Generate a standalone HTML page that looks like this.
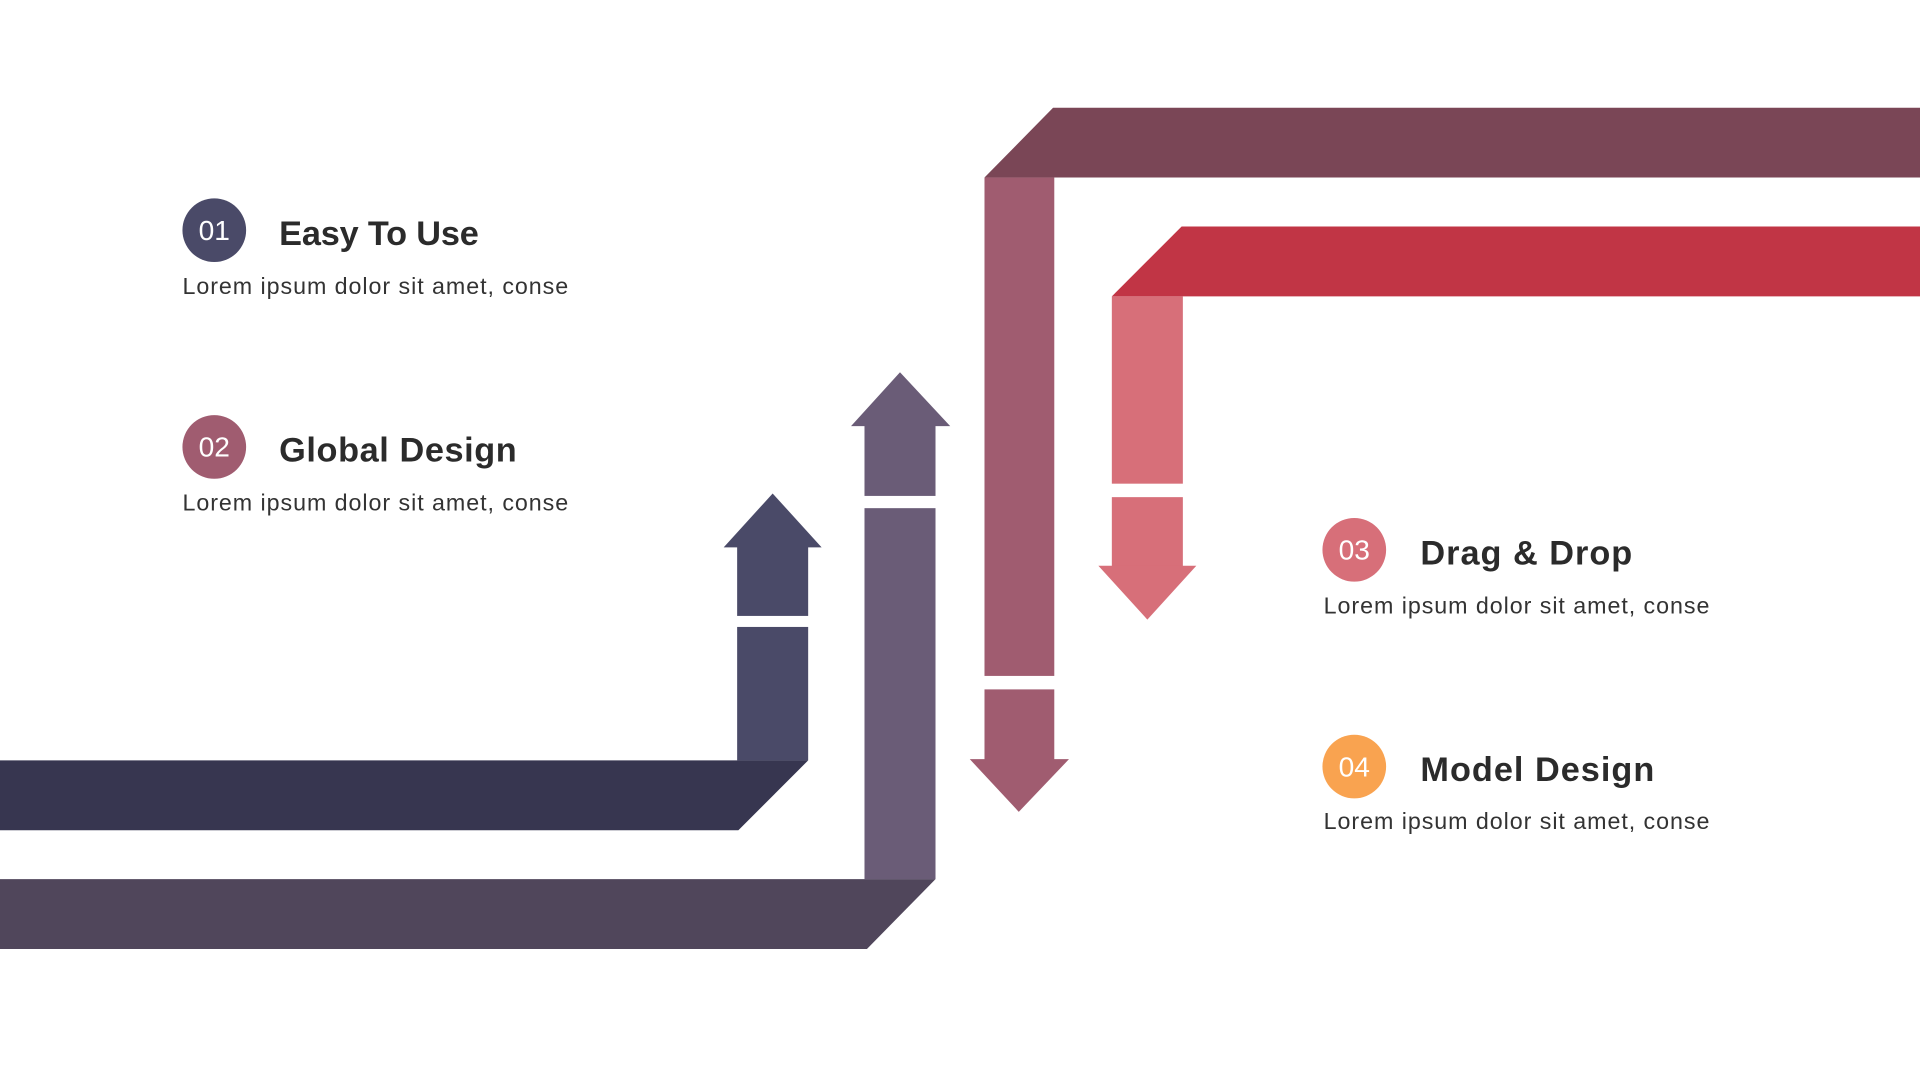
<!DOCTYPE html>
<html><head><meta charset="utf-8"><style>html,body{margin:0;padding:0;background:#fff;width:1920px;height:1080px;overflow:hidden}svg{display:block}</style></head><body>
<svg width="1920" height="1080" viewBox="0 0 1568 882" preserveAspectRatio="none" xmlns="http://www.w3.org/2000/svg" font-family="Liberation Sans, sans-serif">
<polygon points="860,88 1568,88 1568,145 804,145" fill="#7a4656"/>
<rect x="804" y="145" width="57" height="407" fill="#a05c70"/>
<rect x="804" y="563" width="57" height="58" fill="#a05c70"/>
<polygon points="792,620 873,620 832,663" fill="#a05c70"/>
<polygon points="965,185 1568,185 1568,242 908,242" fill="#c13545"/>
<rect x="908" y="242" width="58" height="153" fill="#d76f79"/>
<rect x="908" y="406" width="58" height="57" fill="#d76f79"/>
<polygon points="897,462 977,462 937,506" fill="#d76f79"/>
<polygon points="0,621 660,621 603,678 0,678" fill="#373650"/>
<rect x="602" y="512" width="58" height="109" fill="#4a4a68"/>
<rect x="602" y="446" width="58" height="57" fill="#4a4a68"/>
<polygon points="591,447 671,447 631,403" fill="#4a4a68"/>
<polygon points="0,718 764,718 708,775 0,775" fill="#50465b"/>
<rect x="706" y="415" width="58" height="303" fill="#6a5c77"/>
<rect x="706" y="347" width="58" height="58" fill="#6a5c77"/>
<polygon points="695,348 776,348 735,304" fill="#6a5c77"/>
<g font-size="23" fill="#fff" text-anchor="middle">
<circle cx="175" cy="188" r="26" fill="#4a4a68"/><text x="175" y="196">01</text>
<circle cx="175" cy="365" r="26" fill="#a05c70"/><text x="175" y="373">02</text>
<circle cx="1106" cy="449" r="26" fill="#d76f79"/><text x="1106" y="457">03</text>
<circle cx="1106" cy="626" r="26" fill="#f9a350"/><text x="1106" y="634">04</text>
</g>
<g font-size="28" font-weight="bold" fill="#2b2b2b">
<text x="228" y="200" textLength="163">Easy To Use</text>
<text x="228" y="377" textLength="194">Global Design</text>
<text x="1160" y="461" textLength="173">Drag &amp; Drop</text>
<text x="1160" y="638" textLength="191">Model Design</text>
</g>
<g font-size="19" fill="#333">
<text x="149" y="240" textLength="315">Lorem ipsum dolor sit amet, conse</text>
<text x="149" y="417" textLength="315">Lorem ipsum dolor sit amet, conse</text>
<text x="1081" y="501" textLength="315">Lorem ipsum dolor sit amet, conse</text>
<text x="1081" y="677" textLength="315">Lorem ipsum dolor sit amet, conse</text>
</g>
</svg>
</body></html>
